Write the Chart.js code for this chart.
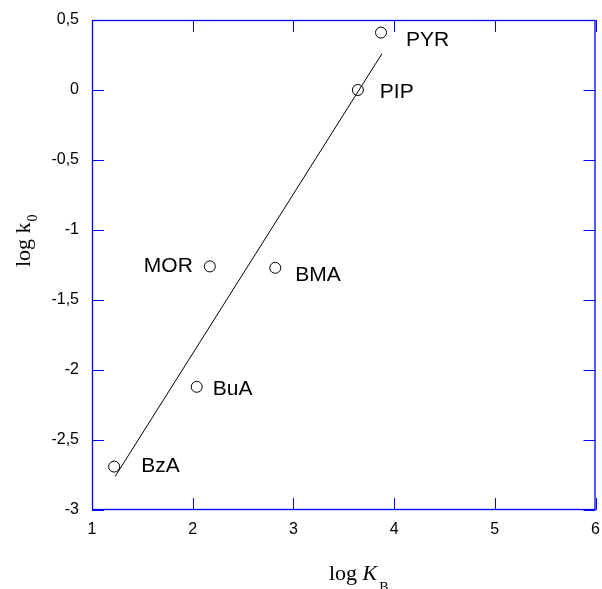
<!DOCTYPE html>
<html>
<head>
<meta charset="utf-8">
<script src="https://cdn.jsdelivr.net/npm/chart.js@4.4.1/dist/chart.umd.min.js"></script>
<style>
  body { margin: 0; background: #fff; }
  #wrap { width: 602px; height: 589px; }
</style>
</head>
<body>
<div id="wrap"><canvas id="scatter-chart" width="602" height="589"></canvas></div>
<script>
// amine labels and their values
var amines = ['PYR', 'PIP', 'MOR', 'BMA', 'BuA', 'BzA'];
var logKB = [3.87, 3.64, 2.17, 2.82, 2.04, 1.22];
var logK0 = [0.41, 0.0, -1.26, -1.27, -2.12, -2.69];

// regression line end points
var fitX = [1.23, 3.88];
var fitY = [-2.76, 0.26];

// tick labels (comma decimals)
var xTickLabels = ['1', '2', '3', '4', '5', '6'];
var yTickLabels = ['-3', '-2,5', '-2', '-1,5', '-1', '-0,5', '0', '0,5'];

var axisBlue = '#0000ff';

// where each name sits relative to its point (px)
var labelOffsets = [[25, 8], [22, 2], [-17, 0], [20, 7], [16, 2], [27, 0]];

var framePlugin = {
    id: 'frame',
    afterDatasetsDraw: function (chart) {
        var ctx = chart.ctx;
        var a = chart.chartArea;
        var xs = chart.scales.x, ys = chart.scales.y;
        ctx.save();
        ctx.strokeStyle = axisBlue;
        ctx.lineWidth = 1.3;
        ctx.strokeRect(a.left + 0.5, a.top + 0.5, a.right - a.left - 1, a.bottom - a.top - 1);
        // inward ticks on all four sides
        ctx.lineWidth = 1;
        ctx.beginPath();
        xs.ticks.forEach(function (t) {
            var px = Math.round(xs.getPixelForValue(t.value)) + 0.5;
            ctx.moveTo(px, a.bottom); ctx.lineTo(px, a.bottom - 12);
            ctx.moveTo(px, a.top); ctx.lineTo(px, a.top + 12);
        });
        ys.ticks.forEach(function (t) {
            var py = Math.round(ys.getPixelForValue(t.value)) + 0.5;
            ctx.moveTo(a.left, py); ctx.lineTo(a.left + 12, py);
            ctx.moveTo(a.right, py); ctx.lineTo(a.right - 12, py);
        });
        ctx.stroke();

        // point names
        ctx.fillStyle = '#000';
        ctx.font = '21px "Liberation Sans", Arial, sans-serif';
        ctx.textBaseline = 'middle';
        var meta = chart.getDatasetMeta(1);
        meta.data.forEach(function (pt, i) {
            var off = labelOffsets[i];
            ctx.textAlign = off[0] < 0 ? 'right' : 'left';
            ctx.fillText(amines[i], pt.x + off[0], pt.y + off[1]);
        });

        // x axis title: log K_B
        ctx.textAlign = 'left';
        ctx.textBaseline = 'alphabetic';
        var x0 = 329, y0 = 580;
        ctx.font = '22px "Liberation Serif", "Times New Roman", serif';
        ctx.fillText('log ', x0, y0);
        x0 += ctx.measureText('log ').width;
        ctx.font = 'italic 22px "Liberation Serif", "Times New Roman", serif';
        ctx.fillText('K', x0, y0);
        x0 += ctx.measureText('K').width + 2;
        ctx.font = '14px "Liberation Serif", "Times New Roman", serif';
        ctx.fillText('B', x0, y0 + 12);

        // y axis title: log k_0
        ctx.translate(30, 267);
        ctx.rotate(-Math.PI / 2);
        ctx.font = '22px "Liberation Serif", "Times New Roman", serif';
        ctx.fillText('log k', 0, 0);
        var w = ctx.measureText('log k').width + 1;
        ctx.font = '14px "Liberation Serif", "Times New Roman", serif';
        ctx.fillText('0', w, 7);
        ctx.restore();
    }
};

var chart = document.getElementById('scatter-chart');

let scatterChart = new Chart(chart, {
    type: 'scatter',
    data: {
        datasets: [{
            label: 'fit',
            data: fitX.map(function (x, i) { return { x: x, y: fitY[i] }; }),
            showLine: true,
            borderColor: '#000',
            borderWidth: 1,
            pointRadius: 0,
            fill: false
        }, {
            label: 'amines',
            data: logKB.map(function (x, i) { return { x: x, y: logK0[i] }; }),
            pointStyle: 'circle',
            pointRadius: 5.5,
            pointBorderColor: '#000',
            pointBackgroundColor: 'rgba(0,0,0,0)',
            pointBorderWidth: 1
        }]
    },
    options: {
        responsive: false,
        animation: false,
        layout: { padding: { top: 20, right: 5, left: 0, bottom: 0 } },
        plugins: {
            legend: { display: false },
            tooltip: { enabled: false }
        },
        scales: {
            x: {
                type: 'linear',
                min: 1,
                max: 6,
                grid: { display: false, drawTicks: false },
                border: { display: false },
                ticks: {
                    stepSize: 1,
                    padding: 10,
                    color: '#000',
                    font: { family: '"Liberation Sans", Arial, sans-serif', size: 16 },
                    callback: function (v) { return xTickLabels[Math.round(v - 1)]; }
                },
                afterFit: function (s) {
                    s.height = 79;
                    s.paddingLeft = 0;
                    s.paddingRight = 0;
                }
            },
            y: {
                type: 'linear',
                min: -3,
                max: 0.5,
                grid: { display: false, drawTicks: false },
                border: { display: false },
                ticks: {
                    stepSize: 0.5,
                    padding: 13,
                    color: '#000',
                    font: { family: '"Liberation Sans", Arial, sans-serif', size: 16 },
                    callback: function (v) { return yTickLabels[Math.round((v + 3) * 2)]; }
                },
                afterFit: function (s) {
                    s.width = 92;
                    s.paddingTop = 0;
                    s.paddingBottom = 0;
                }
            }
        }
    },
    plugins: [framePlugin]
});
</script>
</body>
</html>
